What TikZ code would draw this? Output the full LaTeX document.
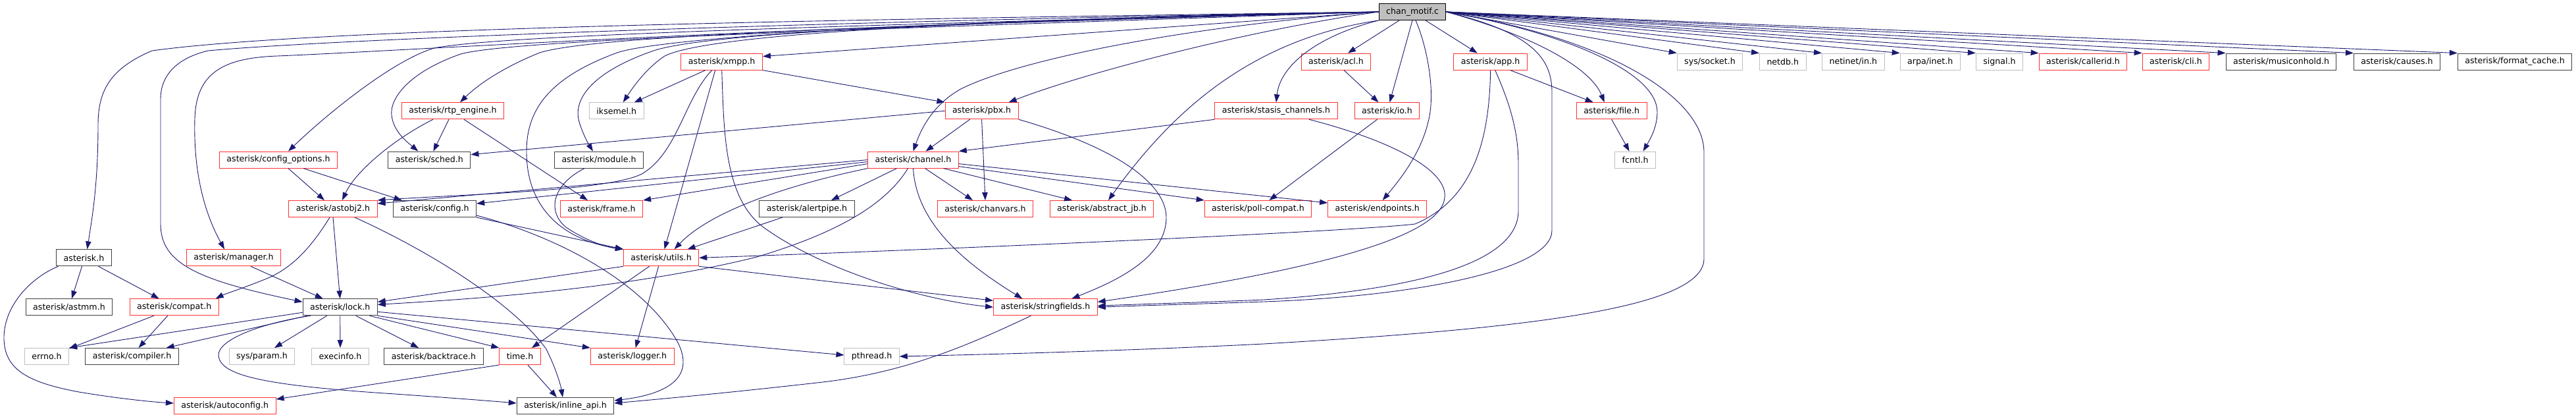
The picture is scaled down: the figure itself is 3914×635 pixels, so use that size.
\documentclass[tikz,border=0pt]{standalone}
\usepackage{fontspec}
\setmainfont{DejaVu Sans}
\usepackage{tikz}
\usepackage{xcolor}
\usetikzlibrary{
  positioning, arrows.meta, calc,
}
\definecolor{cEdge}  {HTML}{191970}
\definecolor{cTrunc} {HTML}{FF3333}
\definecolor{cDoc}   {HTML}{404040}
\definecolor{cSys}   {HTML}{BFBFBF}
\tikzset{
  hdr/.style={rectangle, draw, line width=1pt, minimum height=25pt,
              inner xsep=11pt, inner ysep=0pt, text=black,
              font=\fontsize{12.6}{14}\selectfont},
  hdrTrunc/.style={hdr, draw=cTrunc},
  hdrDoc/.style={hdr, draw=cDoc},
  hdrSys/.style={hdr, draw=cSys},
  hdrRoot/.style={hdr, draw=black, fill=cSys},
  dep/.style={draw=cEdge, line width=0.9pt, -{Triangle[length=12pt,width=8.5pt]}},
}

\begin{document}
\begin{tikzpicture}[x=1pt, y=-1pt]
        \useasboundingbox (0,0) rectangle (3914,635);
        % root file
        \node[hdrRoot] (cm) at (2146,18) {chan\_motif.c};
        % rank 1
        \node[hdrTrunc] (xmpp)     at (1096.7,93.6) {asterisk/xmpp.h};
        \node[hdrTrunc] (acl)      at (2030,93.6)   {asterisk/acl.h};
        \node[hdrTrunc] (app)      at (2264.7,93.6) {asterisk/app.h};
        \node[hdrSys]   (socket)   at (2598,93.6)   {sys/socket.h};
        \node[hdrSys]   (netdb)    at (2708.8,93.6) {netdb.h};
        \node[hdrSys]   (netin)    at (2815.8,93.6) {netinet/in.h};
        \node[hdrSys]   (arpa)     at (2932.7,93.6) {arpa/inet.h};
        \node[hdrSys]   (signal)   at (3038,93.6)   {signal.h};
        \node[hdrTrunc] (callerid) at (3165,93.6)   {asterisk/callerid.h};
        \node[hdrTrunc] (cli)      at (3306,93.6)   {asterisk/cli.h};
        \node[hdrDoc]   (moh)      at (3466,93.6)   {asterisk/musiconhold.h};
        \node[hdrDoc]   (causes)   at (3642,93.6)   {asterisk/causes.h};
        \node[hdrDoc]   (fcache)   at (3821,93.6)   {asterisk/format\_cache.h};
        % rank 2
        \node[hdrTrunc] (rtp)      at (688,168.3)    {asterisk/rtp\_engine.h};
        \node[hdrSys]   (iksemel)  at (936.8,168.3)  {iksemel.h};
        \node[hdrTrunc] (pbx)      at (1491.6,168.3) {asterisk/pbx.h};
        \node[hdrTrunc] (stasis)   at (1939,168.3)   {asterisk/stasis\_channels.h};
        \node[hdrTrunc] (io)       at (2107.5,168.3) {asterisk/io.h};
        \node[hdrTrunc] (file)     at (2448.7,168.3) {asterisk/file.h};
        % rank 3
        \node[hdrTrunc] (cfgopt)   at (423,242.6)    {asterisk/config\_options.h};
        \node[hdrDoc]   (sched)    at (652.4,242.6)  {asterisk/sched.h};
        \node[hdrDoc]   (module)   at (910,242.6)    {asterisk/module.h};
        \node[hdrTrunc] (channel)  at (1387.5,242.6) {asterisk/channel.h};
        \node[hdrSys]   (fcntl)    at (2484.6,242.6) {fcntl.h};
        % rank 4
        \node[hdrTrunc] (astobj2)    at (506,317)    {asterisk/astobj2.h};
        \node[hdrDoc]   (config)     at (660.5,317)  {asterisk/config.h};
        \node[hdrTrunc] (frame)      at (914,317)    {asterisk/frame.h};
        \node[hdrDoc]   (alertpipe)  at (1226,317)   {asterisk/alertpipe.h};
        \node[hdrTrunc] (chanvars)   at (1497,317)   {asterisk/chanvars.h};
        \node[hdrTrunc] (abstractjb) at (1674,317)   {asterisk/abstract\_jb.h};
        \node[hdrTrunc] (pollcompat) at (1911.5,317) {asterisk/poll-compat.h};
        \node[hdrTrunc] (endpoints)  at (2092.7,317) {asterisk/endpoints.h};
        % rank 5
        \node[hdrDoc]   (asth)     at (127.5,391.3)  {asterisk.h};
        \node[hdrTrunc] (manager)  at (355,391.3)    {asterisk/manager.h};
        \node[hdrTrunc] (utils)    at (1004.6,391.3) {asterisk/utils.h};
        % rank 6
        \node[hdrDoc]   (astmm)    at (105,466.3)    {asterisk/astmm.h};
        \node[hdrTrunc] (compat)   at (264.7,466.3)  {asterisk/compat.h};
        \node[hdrDoc]   (lock)     at (516.7,466.3)  {asterisk/lock.h};
        \node[hdrTrunc] (strf)     at (1588.4,466.3) {asterisk/stringfields.h};
        % rank 7
        \node[hdrSys]   (errno)     at (71,541)     {errno.h};
        \node[hdrDoc]   (compiler)  at (200.6,541)  {asterisk/compiler.h};
        \node[hdrSys]   (sysparam)  at (398,541)    {sys/param.h};
        \node[hdrSys]   (execinfo)  at (517,541)    {execinfo.h};
        \node[hdrDoc]   (backtrace) at (659,541)    {asterisk/backtrace.h};
        \node[hdrTrunc] (time)      at (790,541)    {time.h};
        \node[hdrTrunc] (logger)    at (960.7,541)  {asterisk/logger.h};
        \node[hdrSys]   (pthread)   at (1324.6,541) {pthread.h};
        % rank 8
        \node[hdrTrunc] (autoconf) at (341.7,616) {asterisk/autoconfig.h};
        \node[hdrDoc]   (inline)   at (859,616)   {asterisk/inline\_api.h};

        % root: fan to the right
        \foreach \hd in {socket,netdb,netin,arpa,signal,callerid,cli,moh,causes,fcache}{
          \draw[dep] (cm.east) -- (\hd.north west);
        }
        % root: close neighbours
        \draw[dep] ($(cm.south)+(-20,0)$) -- ($(acl.north)+(18,0)$);
        \draw[dep] ($(cm.south)+(20,0)$) -- ($(app.north)+(-20,0)$);
        \draw[dep] (cm.south) -- ($(io.north)+(4,0)$);
        \draw[dep] ($(cm.south)+(5,0)$) .. controls (2168,70) and (2182,140) .. (2170,185)
                   .. controls (2158,235) and (2125,275) .. ($(endpoints.north)+(8,0)$);
        \draw[dep] (cm.south west) .. controls (2000,55) and (1945,100) .. (stasis.north);
        \draw[dep] (cm.south west) .. controls (1900,60) and (1780,170) .. ($(abstractjb.north)+(10,0)$);
        \draw[dep] (cm.east) .. controls (2350,60) and (2420,110) .. ($(file.north)+(-11,0)$);
        \draw[dep] (cm.east) .. controls (2380,50) and (2518,110) .. (2518,170)
                   .. controls (2518,195) and (2505,215) .. ($(fcntl.north)+(12,0)$);
        \draw[dep] (cm.east) .. controls (2330,50) and (2358,90) .. (2358,140) -- (2358,350)
                   .. controls (2358,410) and (2150,450) .. (1920,458)
                   .. controls (1800,462) and (1700,465) .. (strf.east);
        \draw[dep] (cm.east) .. controls (2450,60) and (2589,150) .. (2589,231) -- (2589,393)
                   .. controls (2589,470) and (2300,500) .. (1920,522)
                   .. controls (1700,533) and (1500,538) .. (pthread.east);
        % root: long curves to the left
        \draw[dep] (cm.west) -- ($(xmpp.east)+(0,-8)$);
        \draw[dep] (cm.west) .. controls (1900,45) and (1650,110) .. ($(pbx.north)+(41,0)$);
        \draw[dep] (cm.west) .. controls (1800,40) and (1550,90) .. (1460,135)
                   .. controls (1415,160) and (1398,200) .. (channel.north);
        \draw[dep] (cm.west) .. controls (1500,30) and (1080,50) .. (1010,85)
                   .. controls (980,105) and (960,135) .. ($(iksemel.north)+(10,0)$);
        \draw[dep] (cm.west) .. controls (1600,30) and (1080,45) .. (990,78)
                   .. controls (900,110) and (870,150) .. (880,185)
                   .. controls (886,205) and (895,220) .. ($(module.north)+(-9,0)$);
        \draw[dep] (cm.west) .. controls (1500,28) and (1000,55) .. (935,81)
                   .. controls (830,120) and (800,170) .. (800,230)
                   .. controls (800,320) and (860,365) .. (utils.north west);
        \draw[dep] (cm.west) .. controls (1300,40) and (900,55) .. (820,80)
                   .. controls (770,100) and (730,125) .. ($(rtp.north)+(11,0)$);
        \draw[dep] (cm.west) .. controls (1300,45) and (780,60) .. (700,82)
                   .. controls (620,110) and (592,150) .. (595,175)
                   .. controls (598,200) and (618,215) .. ($(sched.north)+(-17,0)$);
        \draw[dep] (cm.west) .. controls (1200,40) and (750,55) .. (660,73)
                   .. controls (600,90) and (500,170) .. ($(cfgopt.north)+(15,0)$);
        \draw[dep] (cm.west) .. controls (1200,38) and (600,78) .. (421,85)
                   .. controls (340,88) and (298,110) .. (296,180)
                   .. controls (293,280) and (320,340) .. ($(manager.north)+(-14,0)$);
        \draw[dep] (cm.west) .. controls (1200,33) and (500,60) .. (316,77)
                   .. controls (262,90) and (244,120) .. (244,150) -- (244,340)
                   .. controls (244,400) and (300,425) .. ($(lock.west)+(0,-8)$);
        \draw[dep] (cm.west) .. controls (1400,28) and (500,40) .. (231,77)
                   .. controls (165,105) and (149,140) .. (149,190)
                   .. controls (149,280) and (140,330) .. ($(asth.north)+(5,0)$);

        % xmpp, pbx, stasis, acl, io, app, file
        \draw[dep] ($(xmpp.south)+(-25,0)$) -- ($(iksemel.north)+(27,0)$);
        \draw[dep] (xmpp.south east) -- (pbx.north west);
        \draw[dep] ($(xmpp.south)+(-10,0)$) -- ($(utils.north)+(5,0)$);
        \draw[dep] ($(xmpp.south)+(-15,0)$) .. controls (1040,150) and (1030,230) .. (977,263)
                   .. controls (930,290) and (700,295) .. (astobj2.north east);
        \draw[dep] (xmpp.south) .. controls (1100,200) and (1100,300) .. (1160,345)
                   .. controls (1250,410) and (1400,455) .. (strf.west);
        \draw[dep] (pbx.west) -- ($(sched.east)+(0,-8)$);
        \draw[dep] ($(pbx.south)+(-18,0)$) -- ($(channel.north)+(19,0)$);
        \draw[dep] (pbx.south) -- (chanvars.north);
        \draw[dep] (pbx.south east) .. controls (1700,225) and (1772,280) .. (1772,330)
                   .. controls (1772,390) and (1700,425) .. ($(strf.north)+(40,0)$);
        \draw[dep] (stasis.south west) -- (channel.north east);
        \draw[dep] ($(stasis.south)+(50,0)$) .. controls (2120,215) and (2200,260) .. (2195,300)
                   .. controls (2190,360) and (2000,410) .. ($(strf.east)+(0,-8)$);
        \draw[dep] ($(acl.south)+(12,0)$) -- ($(io.north)+(-13,0)$);
        \draw[dep] ($(io.south)+(-15,0)$) -- ($(pollcompat.north)+(17,0)$);
        \draw[dep] ($(app.south)+(30,0)$) -- ($(file.north)+(-28,0)$);
        \draw[dep] (file.south) -- ($(fcntl.north)+(-9,0)$);
        \draw[dep] ($(app.south)+(7,0)$) .. controls (2300,170) and (2307,210) .. (2307,250) -- (2307,320)
                   .. controls (2307,400) and (2150,440) .. (1920,455)
                   .. controls (1800,460) and (1720,462) .. ($(strf.east)+(0,-2)$);
        \draw[dep] (app.south) .. controls (2263,200) and (2245,300) .. (2150,340)
                   .. controls (2050,352) and (1400,380) .. (utils.east);

        % channel.h
        \draw[dep] (channel.west) -- ($(astobj2.east)+(0,-8)$);
        \draw[dep] ($(channel.west)+(0,3)$) -- ($(config.east)+(0,-8)$);
        \draw[dep] ($(channel.west)+(0,6)$) -- (frame.north east);
        \draw[dep] (channel.south west) .. controls (1200,280) and (1080,320) .. ($(utils.north)+(20,0)$);
        \draw[dep] ($(channel.south)+(-25,0)$) -- ($(alertpipe.north)+(37,0)$);
        \draw[dep] ($(channel.south)+(-8,0)$) .. controls (1340,320) and (1250,360) .. (1150,390)
                   .. controls (950,440) and (700,455) .. ($(lock.east)+(0,-4)$);
        \draw[dep] (channel.south) .. controls (1392,330) and (1450,390) .. ($(strf.north)+(-35,0)$);
        \draw[dep] ($(channel.south)+(18,0)$) -- ($(chanvars.north)+(-19,0)$);
        \draw[dep] ($(channel.south)+(46,0)$) -- ($(abstractjb.north)+(-45,0)$);
        \draw[dep] ($(channel.east)+(0,10)$) -- (pollcompat.north west);
        \draw[dep] ($(channel.east)+(0,6)$) -- ($(endpoints.west)+(0,-9)$);

        % middle layers
        \draw[dep] ($(alertpipe.south)+(-37,0)$) -- ($(utils.north)+(40,0)$);
        \draw[dep] ($(module.south)+(-22,0)$) .. controls (840,280) and (830,320) .. (860,345)
                   .. controls (890,365) and (920,375) .. (utils.north west);
        \draw[dep] (config.south east) -- (utils.north west);
        \draw[dep] ($(config.east)+(0,10)$) .. controls (850,360) and (980,430) .. (1030,520)
                   .. controls (1060,580) and (1000,600) .. ($(inline.east)+(0,-8)$);
        \draw[dep] ($(cfgopt.south)+(15,0)$) -- ($(astobj2.north)+(-13,0)$);
        \draw[dep] ($(cfgopt.south)+(38,0)$) -- ($(config.north)+(-50,0)$);
        \draw[dep] ($(rtp.south)+(-6,0)$) -- ($(sched.north)+(6,0)$);
        \draw[dep] ($(rtp.south)+(17,0)$) -- ($(frame.north)+(-21,0)$);
        \draw[dep] ($(rtp.south)+(-30,0)$) .. controls (600,210) and (540,260) .. ($(astobj2.north)+(14,0)$);
        \draw[dep] (astobj2.south) -- (lock.north);
        \draw[dep] ($(astobj2.south)+(-5,0)$) .. controls (470,380) and (440,410) .. (400,425)
                   .. controls (370,437) and (340,447) .. ($(compat.north)+(63,0)$);
        \draw[dep] ($(astobj2.south)+(33,0)$) .. controls (650,380) and (780,460) .. (830,530)
                   .. controls (845,560) and (852,585) .. ($(inline.north)+(-4,0)$);
        \draw[dep] ($(asth.south)+(-3,0)$) -- ($(astmm.north)+(4,0)$);
        \draw[dep] ($(asth.south)+(22,0)$) -- ($(compat.north)+(-23,0)$);
        \draw[dep] ($(asth.south)+(-39,0)$) .. controls (50,420) and (8,460) .. (6,510)
                   .. controls (5,560) and (40,580) .. (120,595)
                   .. controls (180,605) and (230,610) .. ($(autoconf.west)+(0,-4)$);
        \draw[dep] ($(manager.south)+(26,0)$) -- ($(lock.north)+(-26,0)$);
        \draw[dep] ($(compat.south)+(-31,0)$) -- ($(errno.north east)+(0,1)$);
        \draw[dep] ($(compat.south)+(-10,0)$) -- ($(compiler.north)+(10,0)$);

        % lock.h
        \draw[dep] ($(lock.west)+(0,8)$) -- (errno.north east);
        \draw[dep] ($(lock.south)+(-50,0)$) -- ($(compiler.north)+(52,0)$);
        \draw[dep] ($(lock.south)+(-20,0)$) -- ($(sysparam.north)+(19,0)$);
        \draw[dep] (lock.south) -- (execinfo.north);
        \draw[dep] ($(lock.south)+(24,0)$) -- ($(backtrace.north)+(-23,0)$);
        \draw[dep] ($(lock.south)+(45,0)$) -- (time.north west);
        \draw[dep] (lock.south east) -- (logger.north west);
        \draw[dep] ($(lock.east)+(0,7)$) -- ($(pthread.west)+(0,-2)$);
        \draw[dep] ($(lock.south)+(-45,0)$) .. controls (400,490) and (330,515) .. (332,540)
                   .. controls (335,570) and (400,585) .. (600,598)
                   .. controls (700,605) and (750,609) .. ($(inline.west)+(0,-4)$);

        % utils.h, time.h, stringfields.h
        \draw[dep] (utils.south west) -- ($(lock.east)+(0,-8)$);
        \draw[dep] ($(utils.south)+(-18,0)$) -- ($(time.north)+(18,0)$);
        \draw[dep] ($(utils.south)+(-4,0)$) -- ($(logger.north)+(5,0)$);
        \draw[dep] (utils.south east) -- ($(strf.west)+(0,-10)$);
        \draw[dep] ($(time.south)+(12,0)$) -- ($(inline.north)+(-13,0)$);
        \draw[dep] (time.south west) -- ($(autoconf.east)+(0,-10)$);
        \draw[dep] ($(strf.south)+(-22,0)$) .. controls (1480,520) and (1380,565) .. (1250,580)
                   .. controls (1100,597) and (1000,606) .. ($(inline.east)+(0,-4)$);
      \end{tikzpicture}
\end{document}
